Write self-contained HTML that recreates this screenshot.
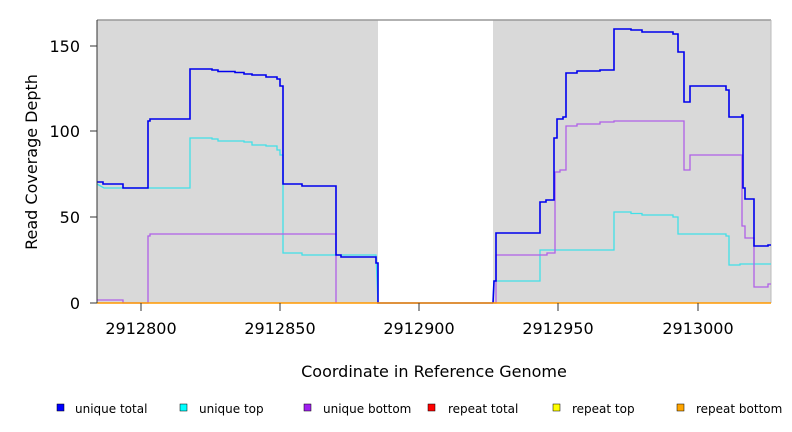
<!DOCTYPE html>
<html><head><style>body{margin:0;background:#fff}svg{display:block;font-family:"DejaVu Sans","Liberation Sans",sans-serif}</style></head><body>
<svg width="792" height="432" viewBox="0 0 792 432" xmlns="http://www.w3.org/2000/svg">
<rect x="97" y="20" width="281" height="283" fill="#d9d9d9"/>
<rect x="493" y="20" width="278" height="283" fill="#d9d9d9"/>
<line x1="97" y1="20" x2="771" y2="20" stroke="#999" stroke-width="1.5"/>
<line x1="771" y1="20" x2="771" y2="303" stroke="#bbb"/>
<g fill="none" stroke-width="1.3">
<polyline stroke="#40e0e8" points="97,184 104,188 190,188 190,138 212,138 212,139 218,139 218,141 244,141 244,142 252,142 252,145 266,145 266,146 277,146 277,150 280,150 280,155 283,155 283,253 302,253 302,255 376,255 378,303"/>
<polyline stroke="#b060e8" points="97,300 123,300 123,303 148,303 148,236 150,236 150,234 336,234 336,303"/>
<polyline stroke="#0000ee" stroke-width="1.6" points="97,182 103,182 103,184 123,184 123,188 148,188 148,121 150,121 150,119 190,119 190,69 212,69 212,70 218,70 218,71.5 235,71.5 235,72.5 244,72.5 244,74 252,74 252,75 266,75 266,77 277,77 277,79 280,79 280,86 283,86 283,184 302,184 302,186 336,186 336,255 341,255 341,257 376,257 376,263 378,263 378,303 493,303"/>
<polyline stroke="#40e0e8" points="493,303 494,281 540,281 540,250 614,250 614,212 631,212 631,213.5 642,213.5 642,215 673,215 673,217 678,217 678,234 726,234 726,236 729,236 729,265 740,265 740,264 771,264"/>
<polyline stroke="#b060e8" points="493,303 496,303 496,255 547,255 547,253 555,253 555,172 560,172 560,170 566,170 566,126 577,126 577,124 600,124 600,122 614,122 614,121 684,121 684,170 690,170 690,155 742,155 742,226 745,226 745,238 754,238 754,287 768,287 768,284 771,284"/>
<polyline stroke="#0000ee" stroke-width="1.6" points="493,303 494,281 496,281 496,233 540,233 540,202 546,202 546,200 554,200 554,138 557,138 557,119 563,119 563,117 566,117 566,73 577,73 577,71 600,71 600,70 614,70 614,29 631,29 631,30 642,30 642,32 673,32 673,34 678,34 678,52 684,52 684,102 690,102 690,86 726,86 726,90 729,90 729,117 742,117 742,115 743,115 743,188 745,188 745,199 754,199 754,246 768,246 768,245 771,245"/>
</g>
<line x1="97" y1="303" x2="771" y2="303" stroke="#ff9900" stroke-width="1.5"/>
<g stroke="#333" stroke-width="1">
<line x1="97" y1="20" x2="97" y2="303"/>
<line x1="90" y1="46" x2="97" y2="46"/><line x1="90" y1="131" x2="97" y2="131"/><line x1="90" y1="217" x2="97" y2="217"/><line x1="90" y1="303" x2="97" y2="303"/>
<line x1="141" y1="303" x2="141" y2="311"/><line x1="280" y1="303" x2="280" y2="311"/><line x1="419" y1="303" x2="419" y2="311"/><line x1="558" y1="303" x2="558" y2="311"/><line x1="698" y1="303" x2="698" y2="311"/>
</g>
<g font-size="16" fill="#000" text-anchor="end">
<text x="80" y="52">150</text><text x="80" y="137">100</text><text x="80" y="223">50</text><text x="80" y="309">0</text>
</g>
<g font-size="16" fill="#000" text-anchor="middle">
<text x="141" y="334">2912800</text><text x="280" y="334">2912850</text><text x="419" y="334">2912900</text><text x="558" y="334">2912950</text><text x="698" y="334">2913000</text>
<text x="434" y="377">Coordinate in Reference Genome</text>
<text transform="translate(37,162) rotate(-90)">Read Coverage Depth</text>
</g>
<g font-size="12" fill="#000">
<rect x="57" y="404" width="7" height="7" fill="#0000ff" stroke="#000" stroke-width="0.5"/><text x="75" y="413">unique total</text>
<rect x="180" y="404" width="7" height="7" fill="#00ffff" stroke="#000" stroke-width="0.5"/><text x="199" y="413">unique top</text>
<rect x="304" y="404" width="7" height="7" fill="#a020f0" stroke="#000" stroke-width="0.5"/><text x="323" y="413">unique bottom</text>
<rect x="428" y="404" width="7" height="7" fill="#ff0000" stroke="#000" stroke-width="0.5"/><text x="448" y="413">repeat total</text>
<rect x="553" y="404" width="7" height="7" fill="#ffff00" stroke="#000" stroke-width="0.5"/><text x="572" y="413">repeat top</text>
<rect x="677" y="404" width="7" height="7" fill="#ffa500" stroke="#000" stroke-width="0.5"/><text x="696" y="413">repeat bottom</text>
</g>
</svg>
</body></html>
